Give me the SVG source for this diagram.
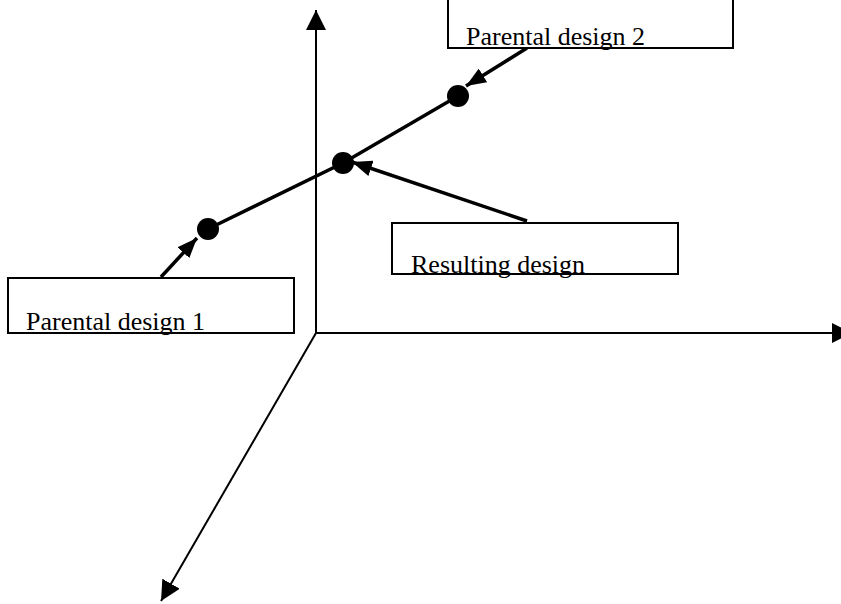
<svg xmlns="http://www.w3.org/2000/svg" width="841" height="604" viewBox="0 0 841 604">
<style>
.box{fill:#fff;stroke:#000;stroke-width:2}
.lbl{font-family:"Liberation Serif","Times New Roman",serif;font-size:26px;fill:#000}
.axis{stroke:#000;stroke-width:2;fill:none}
.ptr{stroke:#000;stroke-width:3.5;fill:none}
.dot{fill:#000}
</style>
<defs>
<marker id="big" markerUnits="userSpaceOnUse" markerWidth="20" markerHeight="20" refX="20" refY="10" orient="auto" viewBox="0 0 20 20">
<path d="M0,0 L20,10 L0,20 z" fill="#000"/>
</marker>
<marker id="small" markerUnits="userSpaceOnUse" markerWidth="20" markerHeight="16" refX="20" refY="8" orient="auto" viewBox="0 0 20 16">
<path d="M0,0 L20,8 L0,16 z" fill="#000"/>
</marker>
</defs>
<g id="connectors">
<line class="axis" x1="316" y1="333" x2="316" y2="10" marker-end="url(#big)"/>
<line class="axis" x1="316" y1="333" x2="852" y2="333" marker-end="url(#big)"/>
<line class="axis" x1="316" y1="333" x2="161" y2="601" marker-end="url(#big)"/>
<polyline class="ptr" points="208,229 343,163 458,96"/>
<line class="ptr" x1="161" y1="277" x2="197" y2="238" marker-end="url(#small)"/>
<line class="ptr" x1="527" y1="48" x2="466" y2="86" marker-end="url(#small)"/>
<line class="ptr" x1="527" y1="221" x2="352" y2="162" marker-end="url(#small)"/>
</g>
<g id="dot1"><circle class="dot" cx="208" cy="229" r="11"/></g>
<g id="dot2"><circle class="dot" cx="343" cy="163" r="11"/></g>
<g id="dot3"><circle class="dot" cx="458" cy="96" r="11"/></g>
<g id="parental2">
<rect class="box" x="448" y="-10" width="285" height="58"/>
<text class="lbl" x="466" y="45">Parental design 2</text>
</g>
<g id="resulting">
<rect class="box" x="392" y="223" width="286" height="51"/>
<text class="lbl" x="411" y="273">Resulting design</text>
</g>
<g id="parental1">
<rect class="box" x="8" y="278" width="286" height="55"/>
<text class="lbl" x="26" y="330">Parental design 1</text>
</g>
</svg>
